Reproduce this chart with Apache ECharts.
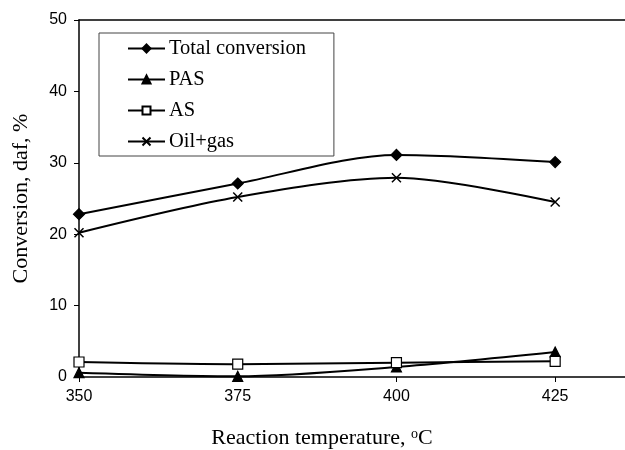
<!DOCTYPE html>
<html><head><meta charset="utf-8">
<script src="https://cdn.jsdelivr.net/npm/echarts@6/dist/echarts.min.js"></script>
<style>html,body{margin:0;padding:0;background:#fff}#c{width:625px;height:450px}</style>
</head><body><div id="c"></div>
<script>
var temps = [350, 375, 400, 425];
var totalConversion = [22.8, 27.1, 31.1, 30.1];
var pas = [0.6, 0.1, 1.4, 3.5];
var as = [2.1, 1.8, 2.0, 2.2];
var oilGas = [20.2, 25.2, 27.9, 24.5];
var yTicks = [0, 10, 20, 30, 40, 50];
var xTicks = [350, 375, 400, 425];

function pairs(v){ return temps.map(function(t,i){ return [t, v[i]]; }); }
var crossPath = 'path://M0,0L10,10M10,0L0,10';
var chart = echarts.init(document.getElementById('c'));
function mk(name, data, symbol, fill, size, extra){
  var s = {
    name: name, type: 'line', data: pairs(data), smooth: 0.3,
    symbol: symbol, symbolSize: size,
    lineStyle: {color: '#000', width: 2},
    itemStyle: {color: fill, borderColor: '#000', borderWidth: 1.2},
    emphasis: {disabled: true}, z: 3
  };
  return Object.assign(s, extra || {});
}
chart.setOption({
  animation: false,
  backgroundColor: '#fff',
  grid: {left: 79, right: 0, top: 20, bottom: 73, outerBoundsMode: 'none', containLabel: false},
  legend: {
    orient: 'vertical', left: 99, top: 33,
    padding: [5, 28, 4, 28], itemGap: 10, itemWidth: 37, itemHeight: 10,
    borderColor: '#444', borderWidth: 1, backgroundColor: '#fff',
    textStyle: {fontFamily: 'Liberation Serif', fontSize: 20.5, color: '#000', padding: [0,0,0,-1]},
    data: ['Total conversion', 'PAS', 'AS', 'Oil+gas']
  },
  xAxis: [{
    type: 'value', min: 350, max: 436, interval: 25,
    axisLine: {show: true, lineStyle: {color: '#000', width: 1.5}},
    axisTick: {show: true, length: 5, lineStyle: {color: '#000'}, customValues: xTicks},
    axisLabel: {color: '#000', fontFamily: 'Liberation Sans', fontSize: 16, margin: 12,
      customValues: xTicks},
    splitLine: {show: false},
    name: 'Reaction temperature, {s|o}C', nameLocation: 'middle', nameGap: 50,
    nameTextStyle: {fontFamily: 'Liberation Serif', fontSize: 22, color: '#000', padding: [0, 60, 0, 0],
      rich: {s: {fontFamily: 'Liberation Serif', fontSize: 14, verticalAlign: 'top', padding: [0,0,9,0], color:'#000'}}}
  }, {
    type: 'value', position: 'top', min: 350, max: 436,
    axisLine: {show: true, onZero: false, lineStyle: {color: '#000', width: 1.5}},
    axisTick: {show: false}, axisLabel: {show: false}, splitLine: {show: false}
  }],
  yAxis: {
    type: 'value', min: 0, max: 50, interval: 10,
    axisLine: {show: true, lineStyle: {color: '#000', width: 1.5}},
    axisTick: {show: true, length: 5, lineStyle: {color: '#000'}, customValues: yTicks},
    axisLabel: {color: '#000', fontFamily: 'Liberation Sans', fontSize: 16, margin: 12, customValues: yTicks},
    splitLine: {show: false},
    name: 'Conversion, daf, %', nameLocation: 'middle', nameGap: 47,
    nameTextStyle: {fontFamily: 'Liberation Serif', fontSize: 22, color: '#000'}
  },
  series: [
    mk('Total conversion', totalConversion, 'diamond', '#000', 11),
    mk('PAS', pas, 'triangle', '#000', 10),
    mk('AS', as, 'rect', '#fff', 10, {z: 4}),
    mk('Oil+gas', oilGas, crossPath, 'none', 9, {itemStyle: {color: 'none', borderColor: '#000', borderWidth: 1.5}})
  ]
});
</script></body></html>
